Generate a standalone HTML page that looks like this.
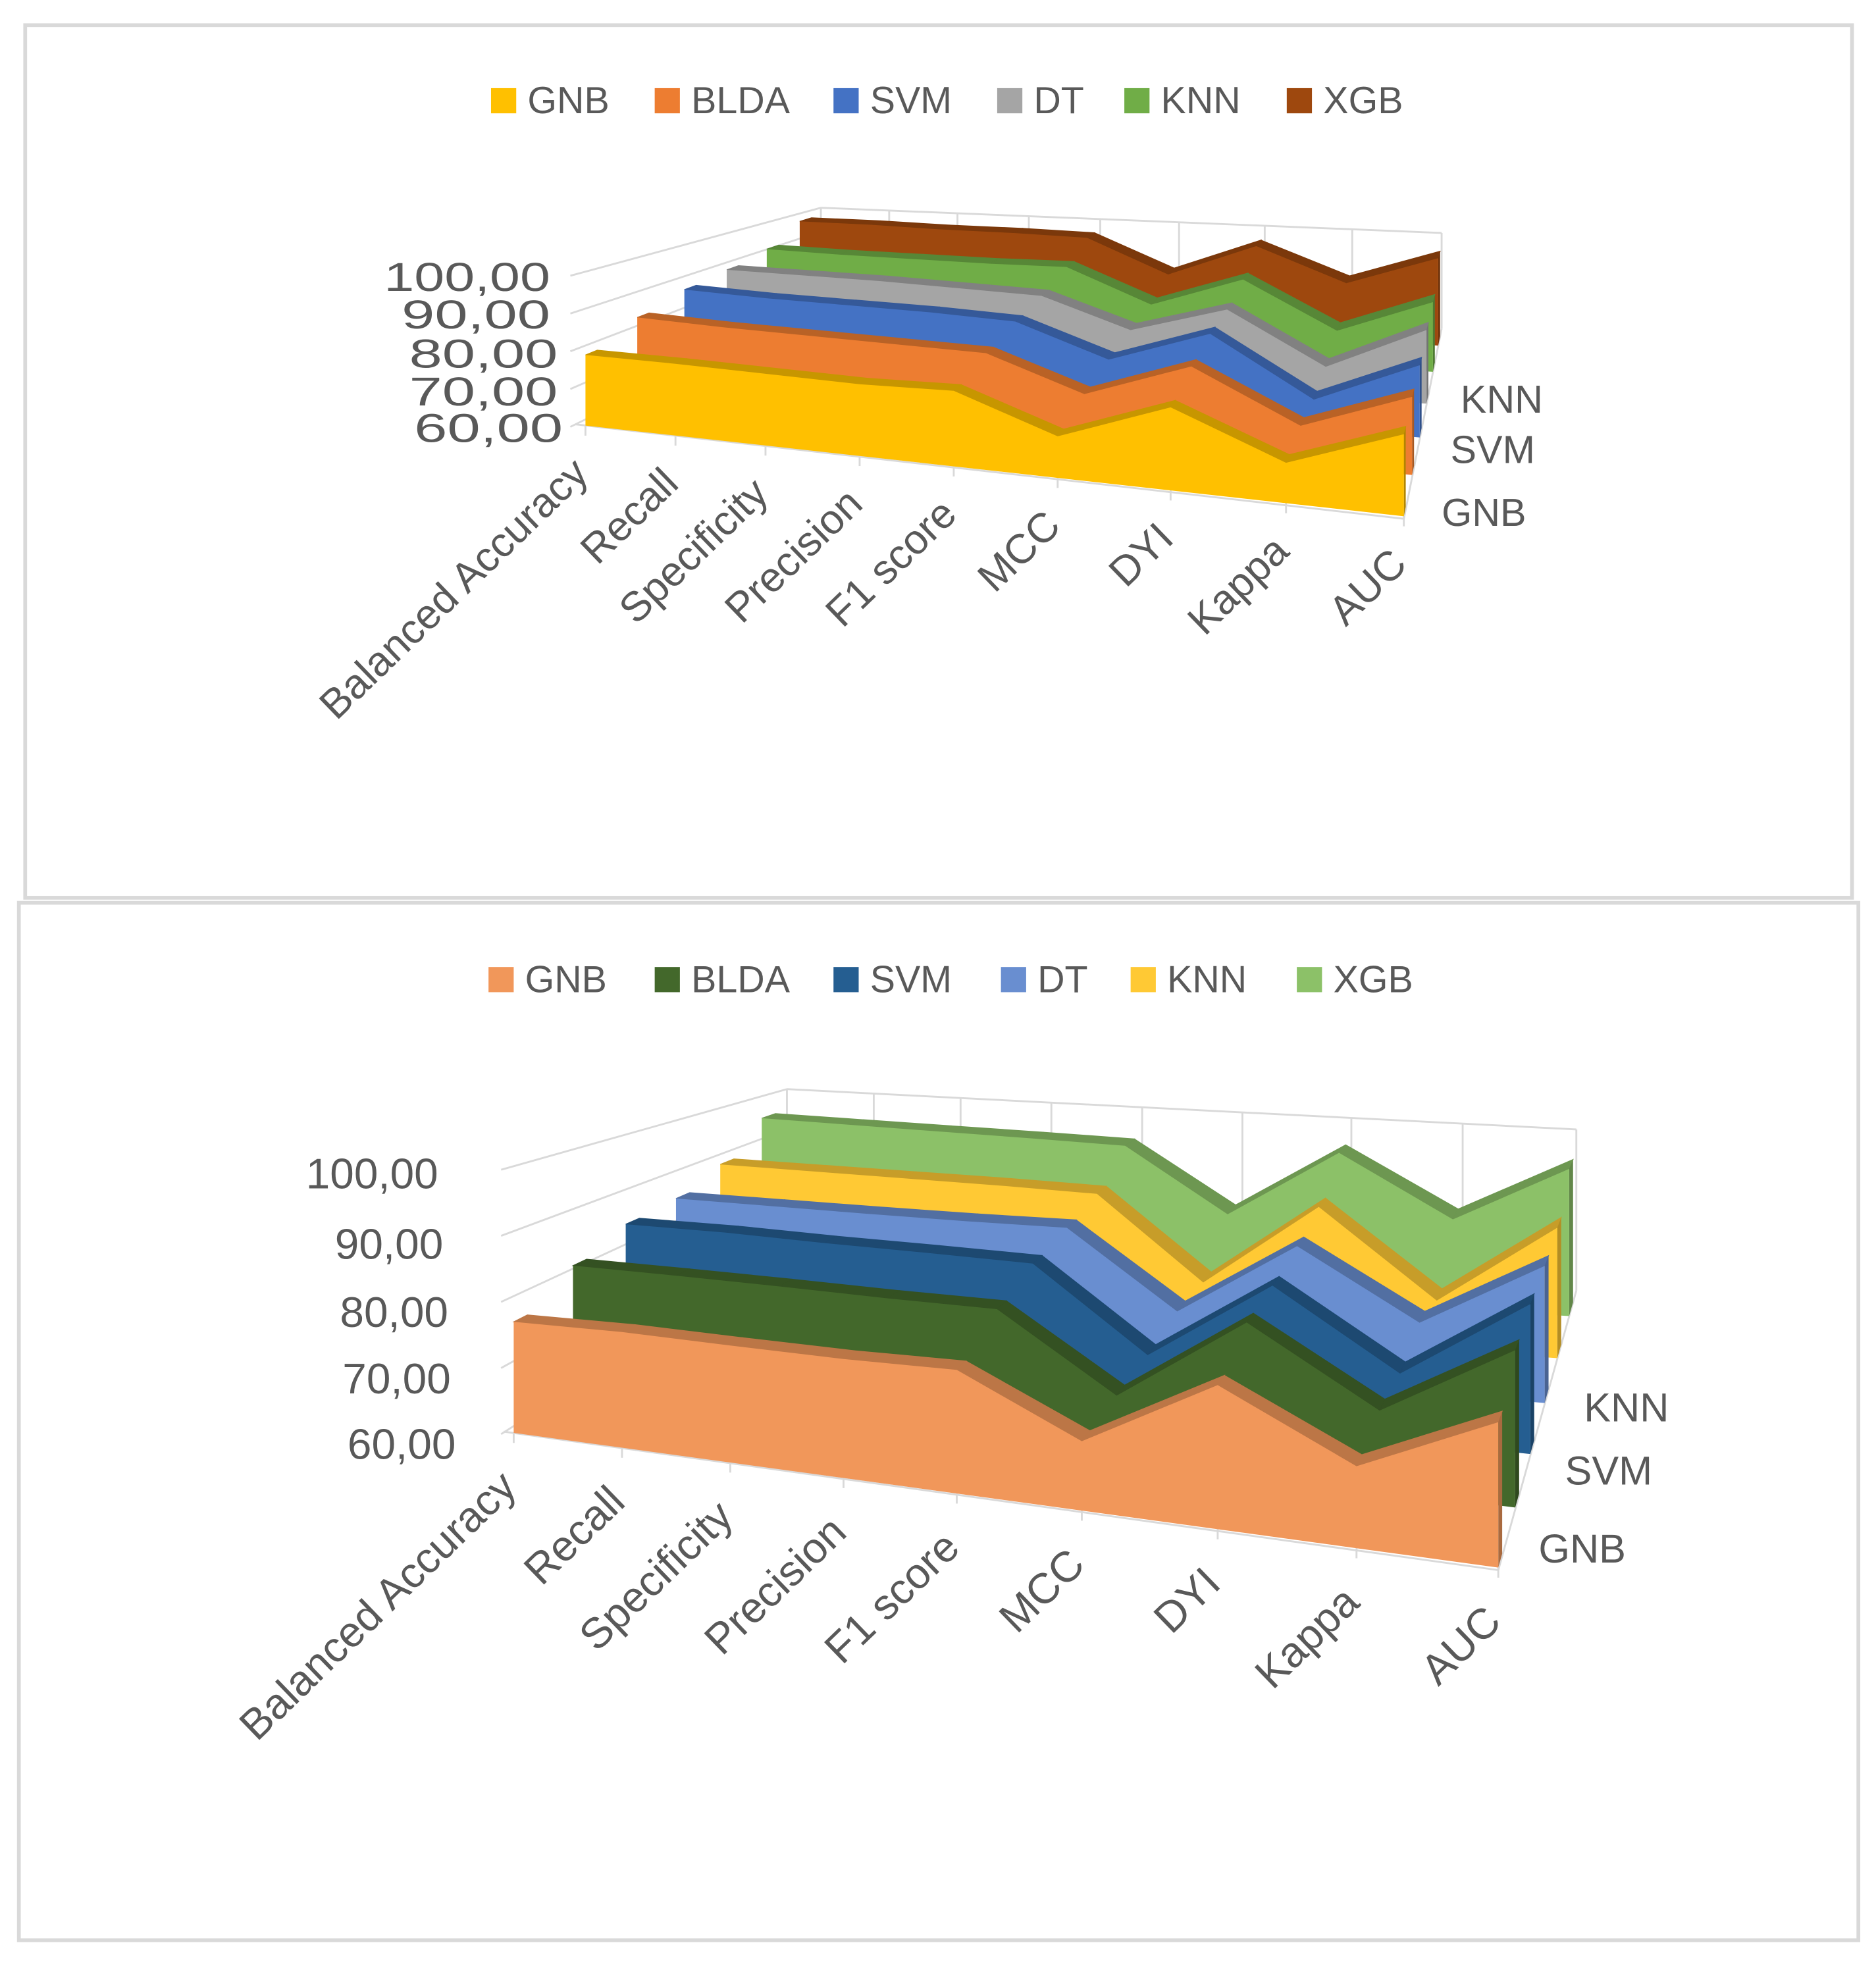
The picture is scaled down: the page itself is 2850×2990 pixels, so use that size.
<!DOCTYPE html>
<html><head><meta charset="utf-8"><style>
html,body{margin:0;padding:0;background:#fff;}
svg{display:block;}
text{font-family:"Liberation Sans",sans-serif;fill:#595959;}
</style></head><body>
<svg id="root" xmlns="http://www.w3.org/2000/svg" width="2850" height="2990" viewBox="0 0 1490 1563" preserveAspectRatio="none">
<rect x="0" y="0" width="1490" height="1563" fill="#fff"/>
<rect x="20" y="20" width="1451" height="693" fill="none" stroke="#d9d9d9" stroke-width="3"/>
<rect x="15" y="717" width="1461" height="824" fill="none" stroke="#d9d9d9" stroke-width="3"/>
<g id="c1"></g>
<g id="c2"></g>
</svg>
<script>
const categories=["Balanced Accuracy","Recall","Specificity","Precision","F1 score","MCC","DYI","Kappa","AUC"];
const seriesNames=["GNB","BLDA","SVM","DT","KNN","XGB"];
const yTicks=[60,70,80,90,100];
const yTickLabels=["60,00","70,00","80,00","90,00","100,00"];
const depthLabels=["GNB","SVM","KNN"];
// chart 1 values
const c1GNB=[78.7,79,79,79,80,71,82,70.7,81.7];
const c1BLDA=[83.4,83,83,83,83,74,85,71,82.5];
const c1SVM=[86.5,86,86,86,85.4,76,86.8,69,82.6];
const c1DT=[88,88,88,87.5,87,77.6,87,70,85];
const c1KNN=[90.4,90,90,90,90.5,78.5,89.8,73,85.7];
const c1XGB=[97,97,96.5,96.5,96,83,96,83,94.7];
// chart 2 values
const c2GNB=[76.8,77.5,77.7,78,78.7,70.5,81.8,72.4,82];
const c2BLDA=[81.1,81.5,81.8,82,82.4,70.5,85.2,73.3,86];
const c2SVM=[84.1,84.5,84.5,84.7,84.8,70.5,85.4,72,87];
const c2DT=[84.8,85,85.2,85.5,86,71.5,86.5,73.6,87];
const c2KNN=[88,88,88,88,87.8,70.5,88.6,70.4,88];
const c2XGB=[94.9,94.6,94.3,94,93.6,79,95,81,94.5];

const NS="http://www.w3.org/2000/svg";
function mk(parent,tag,attrs){const e=document.createElementNS(NS,tag);for(const k in attrs)e.setAttribute(k,attrs[k]);parent.appendChild(e);return e;}
function shade(hex,f){const n=parseInt(hex.slice(1),16);let r=(n>>16)&255,g=(n>>8)&255,b=n&255;r=Math.round(r*f);g=Math.round(g*f);b=Math.round(b*f);return "rgb("+r+","+g+","+b+")";}
function lerp(a,b,t){return a+(b-a)*t;}

const U=[0,.11,.22,.335,.45,.577,.715,.856,1];

function drawChart(g,geo,data,colors){
  function proj(u,t,v){
    const Lx=lerp(geo.L0[0],geo.L6[0],t),Ly=lerp(geo.L0[1],geo.L6[1],t);
    const Rx=lerp(geo.R0[0],geo.R6[0],t),Ry=lerp(geo.R0[1],geo.R6[1],t);
    const k=lerp(geo.k0,geo.k6,t);
    return [lerp(Lx,Rx,u),lerp(Ly,Ry,u)-(v-60)*k];
  }
  const grid=mk(g,"g",{});
  
  
  const gs={stroke:"#d9d9d9","stroke-width":1.5,fill:"none"};
  yTicks.forEach(v=>{
    const a=proj(0,0,v),b=proj(0,1,v);
    const l=mk(grid,"line",Object.assign({x1:a[0]-geo.wallPad,y1:a[1]+1,x2:b[0],y2:b[1]},gs));
    
    
  });
  const bt0=proj(0,1,100),bt1=proj(1,1,100);
  const bl=mk(grid,"line",Object.assign({x1:bt0[0],y1:bt0[1],x2:bt1[0],y2:bt1[1]},gs));
  
  
  U.forEach(u=>{
    const a=proj(u,1,100),b=proj(u,1,60);
    const l=mk(grid,"line",Object.assign({x1:a[0],y1:a[1],x2:b[0],y2:b[1]},gs));
    
    
  });
  const f0=proj(0,0,60),f1=proj(1,0,60);
  const fl=mk(grid,"line",Object.assign({x1:f0[0]-8,y1:f0[1]-1,x2:f1[0],y2:f1[1]+2},gs));
  
  
  const fr=proj(1,1,60);
  const fre=mk(grid,"line",Object.assign({x1:f1[0],y1:f1[1]+2,x2:fr[0],y2:fr[1]},gs));
  
  
  U.forEach(u=>{
    const a=proj(u,0,60);
    const l=mk(grid,"line",Object.assign({x1:a[0],y1:a[1],x2:a[0],y2:a[1]+8},gs));
    
    
  });
  for(let j=data.length-1;j>=0;j--){
    const t=geo.T[j],t2=t+geo.dt,vals=data[j],col=colors[j];
    const sg=mk(g,"g",{});
    
    
    const front=vals.map((v,i)=>proj(U[i],t,v));
    const back=vals.map((v,i)=>proj(U[i],t2,v));
    for(let i=0;i<vals.length-1;i++){
      const pts=[front[i],front[i+1],back[i+1],back[i]].map(p=>p.join(",")).join(" ");
      const f=mk(sg,"polygon",{points:pts,fill:shade(col,0.78),stroke:shade(col,0.78),"stroke-width":0.6});
      
      
    }
    const n=vals.length-1,bf=proj(1,t,60),bb=proj(1,t2,60);
    const ef=mk(sg,"polygon",{points:[front[n],back[n],bb,bf].map(p=>p.join(",")).join(" "),fill:shade(col,0.7)});
    
    
    const base=U.map(u=>proj(u,t,60)).reverse();
    const pts=front.concat(base).map(p=>p.join(",")).join(" ");
    const ff=mk(sg,"polygon",{points:pts,fill:col});
    
    
  }
  yTicks.forEach((v,i)=>{
    const tx=mk(g,"text",{x:geo.yLabelX[i],y:geo.yLabelY[i],"text-anchor":"end","dominant-baseline":"central","font-size":geo.yFs,textLength:geo.yLen[i],lengthAdjust:"spacingAndGlyphs"});
    tx.textContent=yTickLabels[i];
    
    
  });
  categories.forEach((c,i)=>{
    const a=proj(U[i],0,60);
    const x=a[0]+4,y=a[1]+geo.catDy;
    const tx=mk(g,"text",{x:x,y:y,"text-anchor":"end","font-size":geo.catFs,transform:"rotate(-44 "+x+" "+y+")"});
    tx.textContent=c;
    
    
  });
  depthLabels.forEach((d,i)=>{
    const tx=mk(g,"text",{x:geo.depthPos[i][0],y:geo.depthPos[i][1],"dominant-baseline":"central","font-size":geo.dFs});
    tx.textContent=d;
    
    
  });
  const lg=mk(g,"g",{});
  
  
  seriesNames.forEach((s,i)=>{
    const it=mk(lg,"g",{});
    
    
    const r=mk(it,"rect",{x:geo.legX[i],y:geo.legY-10,width:20,height:20,fill:colors[i]});
    
    
    const tx=mk(it,"text",{x:geo.legX[i]+29,y:geo.legY,"dominant-baseline":"central","font-size":geo.legFs});
    tx.textContent=s;
    
    
  });
}

drawChart(document.getElementById("c1"),{
  L0:[465,338],L6:[652,241],R0:[1115,410],R6:[1145,261],k0:3.0,k6:1.9,
  T:[0,.22,.42,.60,.77,.91],dt:0.05,wallPad:12,
  yLabelX:[447,443,443,437,437],yLabelY:[340,311,281,250,220],
  yLen:[118,118,118,118,132],yFs:32,
  catDy:40,catFs:33,dFs:31,legFs:30,
  depthPos:[[1145,407],[1152,357],[1160,317]],
  legX:[390,520,662,792,893,1022],legY:80
},[c1GNB,c1BLDA,c1SVM,c1DT,c1KNN,c1XGB],["#FFC000","#ED7D31","#4472C4","#A5A5A5","#70AD47","#9E480E"]);

drawChart(document.getElementById("c2"),{
  L0:[408,1138],L6:[625,993],R0:[1190,1245],R6:[1252,1025],k0:5.25,k6:3.2,
  T:[0,.217,.41,.594,.756,.908],dt:0.05,wallPad:10,
  yLabelX:[362,358,356,352,348],yLabelY:[1147,1095,1042,988,932],
  yLen:[86,86,86,86,105],yFs:34,
  catDy:45,catFs:34,dFs:32,legFs:30,
  depthPos:[[1222,1230],[1243,1168],[1258,1118]],
  legX:[388,520,662,795,898,1030],legY:778
},[c2GNB,c2BLDA,c2SVM,c2DT,c2KNN,c2XGB],["#F1975A","#43682B","#255E91","#698ED0","#FFC934","#8CC168"]);
</script>
</body></html>
